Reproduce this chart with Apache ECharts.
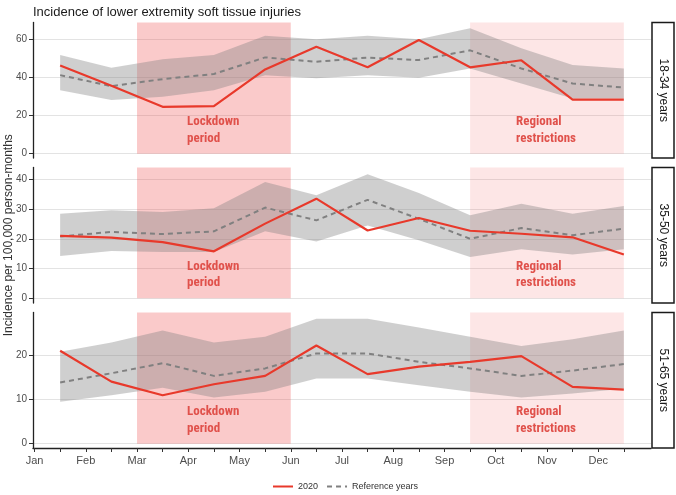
<!DOCTYPE html>
<html><head><meta charset="utf-8">
<script src="https://cdn.jsdelivr.net/npm/echarts@6/dist/echarts.min.js"></script>
<style>html,body{margin:0;padding:0;background:#fff}#c{width:676px;height:495px}</style>
</head><body><div id="c"></div>
<script>
// ---- data ----
const months = ['Jan','Feb','Mar','Apr','May','Jun','Jul','Aug','Sep','Oct','Nov','Dec'];
const panelLabels = ['18-34 years','35-50 years','51-65 years'];

const obs_18_34 = [46.3, 35.6, 24.6, 24.9, 44.2, 56.1, 45.3, 59.6, 45.3, 49.0, 28.4, 28.4];
const ref_18_34 = [41.2, 35.4, 39.1, 41.8, 50.5, 48.2, 50.4, 49.1, 54.2, 44.7, 36.8, 34.7];
const lo_18_34  = [33.3, 28.1, 29.8, 33.3, 41.2, 39.5, 41.2, 39.8, 44.7, 36.8, 28.9, 28.9];
const hi_18_34  = [51.8, 45.1, 49.5, 51.8, 61.9, 60.0, 61.8, 60.0, 65.8, 55.3, 46.5, 44.7];

const obs_35_50 = [21.0, 20.4, 18.9, 15.8, 25.1, 33.5, 22.8, 27.0, 22.7, 21.7, 20.5, 14.7];
const ref_35_50 = [20.8, 22.3, 21.6, 22.5, 30.5, 26.2, 33.1, 26.7, 20.0, 23.6, 21.2, 23.4];
const lo_35_50  = [14.2, 15.9, 15.6, 15.6, 22.5, 19.1, 24.5, 19.5, 13.9, 16.5, 14.7, 16.5];
const hi_35_50  = [28.4, 29.6, 29.0, 30.3, 39.1, 34.6, 41.7, 35.4, 27.9, 31.8, 28.4, 31.0];

const obs_51_65 = [21.1, 14.1, 11.0, 13.5, 15.4, 22.3, 15.8, 17.5, 18.6, 19.9, 12.9, 12.3];
const ref_51_65 = [13.9, 16.0, 18.3, 15.4, 17.1, 20.5, 20.5, 18.6, 17.1, 15.4, 16.6, 18.1];
const lo_51_65  = [9.5, 11.0, 12.7, 10.5, 11.8, 14.8, 14.8, 13.3, 11.8, 10.5, 11.4, 12.5];
const hi_51_65  = [20.9, 23.0, 25.7, 23.0, 24.3, 28.4, 28.4, 26.4, 24.3, 22.2, 23.7, 25.7];

const lockdownRange = [2, 5];      // Mar 1 – Jun 1 (months from Jan 1)
const regionalRange = [8.5, 11.5]; // mid Sep – mid Dec

const xTickValues = [0,0.5,1,1.5,2,2.5,3,3.5,4,4.5,5,5.5,6,6.5,7,7.5,8,8.5,9,9.5,10,10.5,11,11.5];
const xLabelValues = [0,1,2,3,4,5,6,7,8,9,10,11];
const yTicks_18_34 = [0, 20, 40, 60];
const yTicks_35_50 = [0, 10, 20, 30, 40];
const yTicks_51_65 = [0, 10, 20];

// ---- layout ----
const panels = [
  {obs: obs_18_34, ref: ref_18_34, lo: lo_18_34, hi: hi_18_34, ticks: yTicks_18_34, step: 20, min: -2.26, max: 68.8, top: 22.5},
  {obs: obs_35_50, ref: ref_35_50, lo: lo_35_50, hi: hi_35_50, ticks: yTicks_35_50, step: 10, min: -1.58, max: 43.97, top: 167.5},
  {obs: obs_51_65, ref: ref_51_65, lo: lo_51_65, hi: hi_51_65, ticks: yTicks_51_65, step: 10, min: -0.98, max: 29.8, top: 312.5}
];
const PH = 135.5, LEFT = 33, RIGHT = 25;
const FONT = '"Liberation Sans", Arial, sans-serif';
const NARROW = '"Liberation Sans Narrow", "Roboto Condensed", "Roboto", sans-serif';
const RED = '#E8392B';

const grids = [], xAxes = [], yAxes = [], series = [], graphics = [];
panels.forEach((p, k) => {
  grids.push({left: LEFT, right: RIGHT, top: p.top, height: PH, outerBoundsMode: 'none', containLabel: false});
  xAxes.push({
    type: 'value', gridIndex: k, min: -0.03, max: 12.03, show: k === 2,
    axisLine: {show: true, onZero: false, lineStyle: {color: '#222', width: 1.3}},
    axisTick: {show: true, length: 4, customValues: xTickValues, lineStyle: {color: '#333', width: 1}},
    axisLabel: {customValues: xLabelValues, formatter: v => months[Math.round(v)], fontSize: 11, color: '#4d4d4d', margin: 7, fontFamily: FONT},
    splitLine: {show: false}
  });
  yAxes.push({
    type: 'value', gridIndex: k, min: p.min, max: p.max, minInterval: p.step, maxInterval: p.step,
    name: k === 1 ? 'Incidence per 100,000 person-months' : '',
    nameLocation: 'middle', nameGap: 18, nameMoveOverlap: false,
    nameTextStyle: {fontSize: 12, color: '#333', fontFamily: FONT},
    axisLine: {show: true, onZero: false, lineStyle: {color: '#222', width: 1.3}},
    axisTick: {show: true, length: 4, customValues: p.ticks, lineStyle: {color: '#333', width: 1}},
    axisLabel: {customValues: p.ticks, fontSize: 10, color: '#4d4d4d', margin: 6, fontFamily: FONT},
    splitLine: {show: true, lineStyle: {color: '#dcdcdc', width: 0.8}}
  });
  const lo = p.lo, hi = p.hi;
  series.push({
    type: 'custom', name: 'band' + k, xAxisIndex: k, yAxisIndex: k, silent: true, z: 2,
    encode: {x: 0, y: [1, 2]},
    data: months.map((m, i) => [i + 0.5, lo[i], hi[i]]),
    renderItem: (params, api) => {
      if (params.dataIndex !== 0) return null;
      const pts = [];
      for (let i = 0; i < hi.length; i++) pts.push(api.coord([i + 0.5, hi[i]]));
      for (let i = lo.length - 1; i >= 0; i--) pts.push(api.coord([i + 0.5, lo[i]]));
      return {type: 'polygon', shape: {points: pts}, style: {fill: 'rgba(128,128,128,0.38)'}};
    }
  });
  series.push({
    type: 'line', name: 'Reference years', xAxisIndex: k, yAxisIndex: k, z: 3,
    symbol: 'none', silent: true,
    data: p.ref.map((v, i) => [i + 0.5, v]),
    lineStyle: {color: '#808080', width: 2, type: [5, 4]},
    itemStyle: {color: '#808080'}
  });
  series.push({
    type: 'line', name: '2020', xAxisIndex: k, yAxisIndex: k, z: 4,
    symbol: 'none', silent: true,
    data: p.obs.map((v, i) => [i + 0.5, v]),
    lineStyle: {color: RED, width: 2.2},
    itemStyle: {color: RED},
    markArea: {
      silent: true,
      label: {show: true, position: 'insideBottomLeft', distance: 0, color: '#E0514B',
              fontFamily: NARROW, fontWeight: 'bold', fontSize: 13, lineHeight: 16.5},
      data: [
        [{name: 'Lockdown\nperiod', xAxis: lockdownRange[0], yAxis: 0,
          itemStyle: {color: 'rgba(238,80,80,0.3)'}, label: {offset: [50, -7]}},
         {xAxis: lockdownRange[1], yAxis: p.max}],
        [{name: 'Regional\nrestrictions', xAxis: regionalRange[0], yAxis: 0,
          itemStyle: {color: 'rgba(240,90,90,0.15)'}, label: {offset: [46, -7]}},
         {xAxis: regionalRange[1], yAxis: p.max}]
      ]
    }
  });
  graphics.push({type: 'rect', shape: {x: 652, y: p.top, width: 22, height: PH},
    style: {fill: '#fff', stroke: '#1a1a1a', lineWidth: 1.5}});
  graphics.push({type: 'text', x: 663, y: p.top + PH / 2, rotation: -Math.PI / 2,
    style: {text: panelLabels[k], align: 'center', verticalAlign: 'middle', fill: '#1a1a1a', font: '12px ' + FONT}});
});

const chart = echarts.init(document.getElementById('c'), null, {renderer: 'canvas'});
chart.setOption({
  animation: false,
  backgroundColor: '#fff',
  title: {text: 'Incidence of lower extremity soft tissue injuries', left: 28, top: 1,
          textStyle: {fontSize: 13, fontWeight: 'normal', color: '#1a1a1a', fontFamily: FONT}},
  legend: {data: ['2020', 'Reference years'], left: 272, top: 482, padding: 0, itemWidth: 20, itemHeight: 10, itemGap: 8,
           itemStyle: {opacity: 0},
           textStyle: {fontSize: 9, color: '#333', fontFamily: FONT}},
  grid: grids, xAxis: xAxes, yAxis: yAxes, series: series, graphic: graphics
});
</script></body></html>
